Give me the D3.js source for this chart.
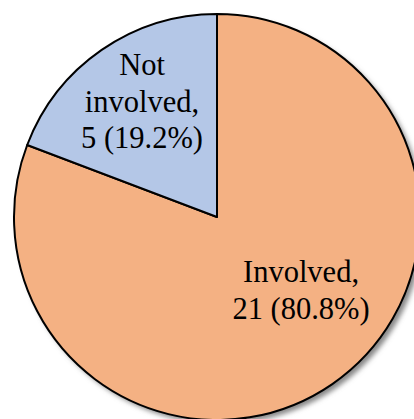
<!DOCTYPE html>
<html lang="en">
<head>
    <meta charset="UTF-8">
    <title>Involvement pie</title>
    <script src="https://d3js.org/d3.v7.min.js"></script>
    <style>
        body { margin: 0; background: #fff; }
    </style>
</head>
<body>
<script>
    var width = 414, height = 419;
    var categories = ["Involved", "Not involved"];
    var counts = [21, 5];
    var colors = ["#F4B183", "#B4C7E7"];
    // label lines per slice
    var labelLines = [["Involved,", "21 (80.8%)"], ["Not", "involved,", "5 (19.2%)"]];
    var labelPos = [[301, 282], [142, 75]];

    var cx = 217, cy = 217, r = 203;

    var svg = d3.select("body").append("svg")
        .attr("width", width)
        .attr("height", height);

    var defs = svg.append("defs");
    defs.append("filter").attr("id", "shadow")
        .attr("x", "-10%").attr("y", "-10%").attr("width", "130%").attr("height", "130%")
        .append("feGaussianBlur").attr("stdDeviation", 2.5);

    var data = categories.map(function(c, i) { return {name: c, value: counts[i], color: colors[i]}; });
    var pie = d3.pie().sort(null).value(function(d) { return d.value; });
    var arc = d3.arc().innerRadius(0).outerRadius(r);

    var g = svg.append("g").attr("transform", "translate(" + cx + "," + cy + ")");

    // drop shadow
    g.append("circle")
        .attr("cx", 4).attr("cy", 4).attr("r", r)
        .attr("fill", "#888")
        .attr("filter", "url(#shadow)");

    g.selectAll("path.slice").data(pie(data)).enter().append("path")
        .attr("class", "slice")
        .attr("d", arc)
        .attr("fill", function(d) { return d.data.color; })
        .attr("stroke", "#000")
        .attr("stroke-width", 2)
        .attr("stroke-linejoin", "round");

    labelLines.forEach(function(lines, i) {
        var t = svg.append("text")
            .attr("x", labelPos[i][0])
            .attr("y", labelPos[i][1])
            .attr("text-anchor", "middle")
            .attr("font-family", "'Liberation Serif', 'Times New Roman', serif")
            .attr("font-size", 30.5)
            .attr("fill", "#000");
        lines.forEach(function(line, j) {
            t.append("tspan")
                .attr("x", labelPos[i][0])
                .attr("dy", j === 0 ? 0 : 36.5)
                .text(line);
        });
    });
</script>
</body>
</html>
